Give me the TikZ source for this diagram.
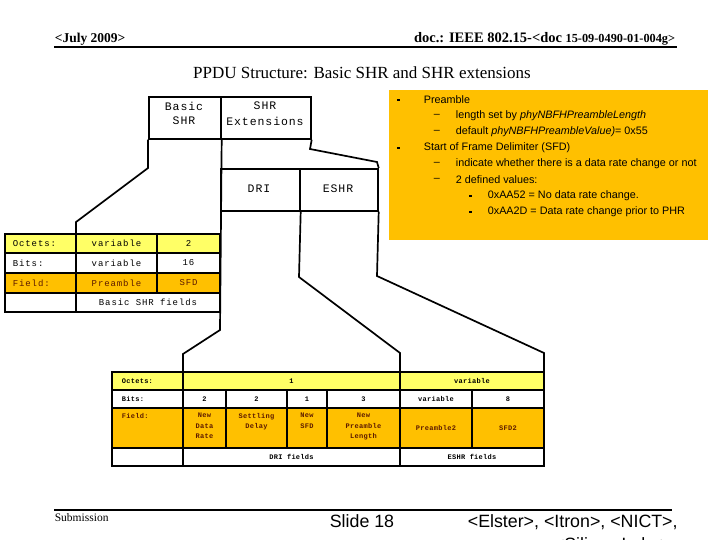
\documentclass[tikz,border=0pt]{standalone}
\usepackage{fontspec}
\setmainfont{Liberation Serif}
\newfontfamily\sansf{Liberation Sans}
\newfontfamily\tabfont[LetterSpace=10]{Liberation Mono}
\newfontfamily\smallfont[LetterSpace=4]{Liberation Mono}
\newfontfamily\boxfont[LetterSpace=8]{Liberation Mono}
\definecolor{yel}{HTML}{FFFF66}
\definecolor{org}{HTML}{FFC000}
\definecolor{fldtxt}{HTML}{5C1A00}
\newcommand\rbox[5]{\filldraw[fill=#5] (#1,#2) rectangle (#3,#4);}
\tikzset{
  hdr/.style={inner sep=0, font=\bfseries\fontsize{13.5}{15}\selectfont},
  txt/.style={anchor=west, inner sep=0, font=\sansf\fontsize{10.8}{12}\selectfont},
  bx/.style={draw, inner sep=0, anchor=north west},
  bxt/.style={inner sep=0, font=\boxfont\fontsize{11.5}{15}\selectfont},
  ut/.style={inner sep=0, font=\tabfont\fontsize{9}{10}\selectfont},
  lt/.style={inner sep=0, align=center, font=\smallfont\bfseries\fontsize{7}{10.3}\selectfont},
}
\begin{document}
\begin{tikzpicture}[x=1pt,y=-1pt,line width=1.7pt]
\useasboundingbox (0,0) rectangle (720,540);
\fill[white] (0,0) rectangle (720,540);
% header
\node[hdr, anchor=base west] (date) at (54,43) {<July 2009>};
\node[hdr, anchor=base east, font=\bfseries\fontsize{14.5}{16}\selectfont] (doc) at (676,43) {doc.: IEEE 802.15-<doc {\fontsize{12.3}{13}\selectfont 15-09-0490-01-004g>}};
\draw[line width=2pt] (54,47) -- (677,47);
\node[inner sep=0, anchor=base, font=\fontsize{17}{19}\selectfont] (title) at (362,79) {PPDU Structure: Basic SHR and SHR extensions};
% footer
\draw[line width=2pt] (54,510) -- (672,510);
\node[inner sep=0, anchor=base west, font=\fontsize{11.5}{12}\selectfont] (sub) at (54,521) {Submission};
\node[inner sep=0, anchor=center, font=\sansf\fontsize{17.8}{19}\selectfont] (slide) at (362,521) {Slide 18};
\node[inner sep=0, anchor=base west, font=\sansf\fontsize{17.8}{19}\selectfont] (auth) at (467,527) {<Elster>, <Itron>, <NICT>,};
\node[inner sep=0, anchor=base west, font=\sansf\fontsize{17.8}{19}\selectfont] (auth2) at (553,550) {<Silicon Labs>};
% orange info box
\fill[org] (389,90) rectangle (708,240);
\foreach \yy in {100,148} {\fill (397.3,\yy-1.3) rectangle +(2.6,2.6);}
\foreach \yy in {196,212} {\fill (469.3,\yy-1.3) rectangle +(2.6,2.6);}
\node[txt] (p1) at (423,100) {Preamble};
\node[txt] (d1) at (433,116) {–};
\node[txt] (p1a) at (455,116) {length set by \textit{phyNBFHPreambleLength}};
\node[txt] (d2) at (433,132) {–};
\node[txt] (p1b) at (455,132) {default \textit{phyNBFHPreambleValue)}= 0x55};
\node[txt] (p2) at (423,148) {Start of Frame Delimiter (SFD)};
\node[txt] (d3) at (433,164) {–};
\node[txt] (p2a) at (455,164) {indicate whether there is a data rate change or not};
\node[txt] (d4) at (433,180) {–};
\node[txt] (p2b) at (455,180) {2 defined values:};
\node[txt] (p2b1) at (487,196) {0xAA52 = No data rate change.};
\node[txt] (p2b2) at (487,212) {0xAA2D = Data rate change prior to PHR};
% top boxes
\node[bx, minimum width=72, minimum height=42] (bshr) at (148,96) {};
\node[bx, minimum width=90, minimum height=42] (ext) at (220,96) {};
\node[bx, minimum width=79, minimum height=42] (dri) at (220,168) {};
\node[bx, minimum width=78, minimum height=42] (eshr) at (299,168) {};
\node[bxt] (bshrA) at (184,106) {Basic};
\node[bxt] (bshrB) at (184,121) {SHR};
\node[bxt] (extA) at (265,106) {SHR};
\node[bxt] (extB) at (265,121) {Extensions};
\node[bxt] (driT) at (259,189) {DRI};
\node[bxt] (eshrT) at (338,189) {ESHR};
% funnels
\draw (bshr.south west) -- (148,168) -- (76,222) -- (76,234);
\draw (bshr.south east) -- (220,330) -- (183,354) -- (183,372);
\draw (ext.south east) -- (310,149) -- (377,162) -- (eshr.north east);
\draw (dri.south east) -- (299,277) -- (400,353) -- (400,372);
\draw (eshr.south east) -- (377,276) -- (544,353) -- (544,372);
% upper table
\rbox{5}{234}{76}{253}{yel}\rbox{76}{234}{157}{253}{yel}\rbox{157}{234}{220}{253}{yel}
\rbox{5}{253}{76}{273}{white}\rbox{76}{253}{157}{273}{white}\rbox{157}{253}{220}{273}{white}
\rbox{5}{273}{76}{293}{org}\rbox{76}{273}{157}{293}{org}\rbox{157}{273}{220}{293}{org}
\rbox{5}{293}{76}{312}{white}\rbox{76}{293}{220}{312}{white}
\node[ut, anchor=west] (uo) at (12,243.5) {Octets:};
\node[ut] (uo2) at (116.5,243.5) {variable};
\node[ut] (uo3) at (188.5,243.5) {2};
\node[ut, anchor=west] (ub) at (12,263) {Bits:};
\node[ut] (ub2) at (116.5,263) {variable};
\node[ut] (ub3) at (188.5,263) {16};
\node[ut, anchor=west, text=fldtxt] (uf) at (12,283) {Field:};
\node[ut, text=fldtxt] (uf2) at (116.5,283) {Preamble};
\node[ut, text=fldtxt] (uf3) at (188.5,283) {SFD};
\node[ut] (ufl) at (148,302.5) {Basic SHR fields};
% lower table
\rbox{112}{372}{183}{390}{yel}\rbox{183}{372}{400}{390}{yel}\rbox{400}{372}{544}{390}{yel}
\rbox{112}{390}{183}{408}{white}\rbox{183}{390}{226}{408}{white}\rbox{226}{390}{287}{408}{white}\rbox{287}{390}{327}{408}{white}\rbox{327}{390}{400}{408}{white}\rbox{400}{390}{472}{408}{white}\rbox{472}{390}{544}{408}{white}
\rbox{112}{408}{183}{448}{org}\rbox{183}{408}{226}{448}{org}\rbox{226}{408}{287}{448}{org}\rbox{287}{408}{327}{448}{org}\rbox{327}{408}{400}{448}{org}\rbox{400}{408}{472}{448}{org}\rbox{472}{408}{544}{448}{org}
\rbox{112}{448}{183}{466}{white}\rbox{183}{448}{400}{466}{white}\rbox{400}{448}{544}{466}{white}
\node[lt, anchor=west] (lo) at (121,381) {Octets:};
\node[lt] (lo2) at (291.5,381) {1};
\node[lt] (lo3) at (472,381) {variable};
\node[lt, anchor=west] (lb) at (121,399) {Bits:};
\node[lt] (lb1) at (204.5,399) {2};
\node[lt] (lb2) at (256.5,399) {2};
\node[lt] (lb3) at (307,399) {1};
\node[lt] (lb4) at (363.5,399) {3};
\node[lt] (lb5) at (436,399) {variable};
\node[lt] (lb6) at (508,399) {8};
\node[lt, anchor=north west, text=fldtxt] (lf) at (121,412.5) {Field:};
\node[lt, anchor=north, text=fldtxt] (lf1) at (204.5,412.5) {New\\Data\\Rate};
\node[lt, anchor=north, text=fldtxt] (lf2) at (256.5,412.5) {Settling\\Delay};
\node[lt, anchor=north, text=fldtxt] (lf3) at (307,412.5) {New\\SFD};
\node[lt, anchor=north, text=fldtxt] (lf4) at (363.5,412.5) {New\\Preamble\\Length};
\node[lt, text=fldtxt] (lf5) at (436,428) {Preamble2};
\node[lt, text=fldtxt] (lf6) at (508,428) {SFD2};
\node[lt] (ldri) at (291.5,457) {DRI fields};
\node[lt] (leshr) at (472,457) {ESHR fields};
\end{tikzpicture}
\end{document}
